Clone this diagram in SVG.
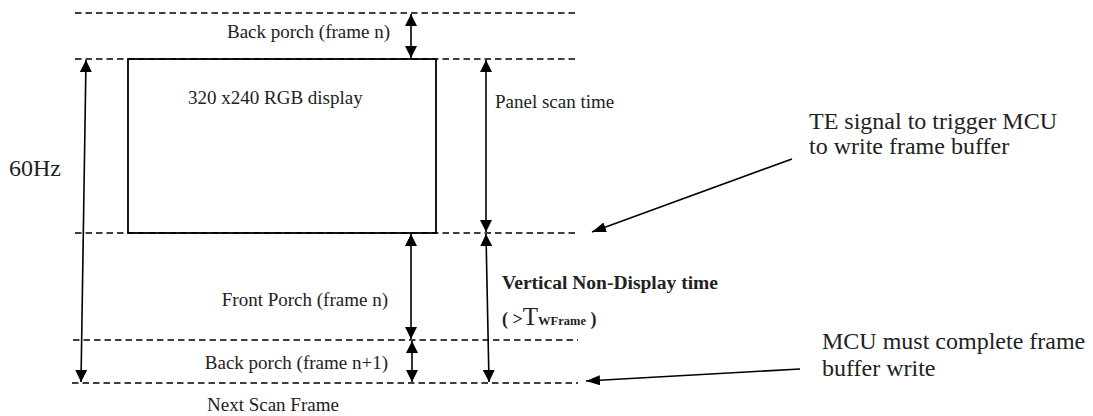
<svg xmlns="http://www.w3.org/2000/svg" width="1093" height="416" viewBox="0 0 1093 416">
<style>
.dash{stroke:#000;stroke-width:1.6;stroke-dasharray:6.5 4;fill:none}
.arr{stroke:#000;stroke-width:1.6;fill:none}
.lbl{font-family:"Liberation Serif","Times New Roman",serif;fill:#222;font-size:19px}
.big{font-family:"Liberation Serif","Times New Roman",serif;fill:#222;font-size:24px}
.bold{font-family:"Liberation Serif","Times New Roman",serif;fill:#222;font-size:18px;font-weight:bold}
</style>
<defs>
<marker id="ah" viewBox="0 0 12 12" refX="12" refY="6" markerWidth="12" markerHeight="12" markerUnits="userSpaceOnUse" orient="auto-start-reverse">
<path d="M0,0 L12,6 L0,12 z" fill="#000"/>
</marker>
<marker id="ah2" viewBox="0 0 14 10" refX="14" refY="5" markerWidth="14" markerHeight="10" markerUnits="userSpaceOnUse" orient="auto-start-reverse">
<path d="M0,0 L14,5 L0,10 z" fill="#000"/>
</marker>
</defs>
<rect width="1093" height="416" fill="#fff"/>
<g id="guides">
<line class="dash" x1="75" y1="13" x2="578" y2="13"/>
<line class="dash" x1="75" y1="59" x2="578" y2="59"/>
<line class="dash" x1="75" y1="233" x2="578" y2="233"/>
<line class="dash" x1="73" y1="340" x2="578" y2="340"/>
<line class="dash" x1="72" y1="383" x2="578" y2="383"/>
</g>
<g id="display">
<rect x="128" y="59" width="308" height="174" fill="none" stroke="#000" stroke-width="1.8"/>
<text class="lbl" x="188" y="104">320 x240 RGB display</text>
</g>
<g id="labels">
<text class="lbl" x="227" y="38">Back porch (frame n)</text>
<text class="lbl" x="495" y="108">Panel scan time</text>
<text class="big" x="9" y="176">60Hz</text>
<text class="lbl" x="388" y="306" text-anchor="end">Front Porch (frame n)</text>
<text class="lbl" x="388" y="369" text-anchor="end">Back porch (frame n+1)</text>
<text class="lbl" x="207" y="411">Next Scan Frame</text>
<text class="bold" x="502" y="289" textLength="216" lengthAdjust="spacingAndGlyphs">Vertical Non-Display time</text>
<text class="bold" x="502" y="325">( &gt;<tspan font-size="25" font-weight="normal">T</tspan><tspan font-size="12.5">WFrame</tspan> )</text>
<text class="big" x="809" y="129">TE signal to trigger MCU</text>
<text class="big" x="809" y="154">to write frame buffer</text>
<text class="big" x="822" y="349">MCU must complete frame</text>
<text class="big" x="822" y="376">buffer write</text>
</g>
<g id="connectors">
<line class="arr" x1="411" y1="14" x2="411" y2="58" marker-start="url(#ah)" marker-end="url(#ah)"/>
<line class="arr" x1="86" y1="60" x2="81" y2="382" marker-start="url(#ah)" marker-end="url(#ah)"/>
<line class="arr" x1="486" y1="60" x2="486" y2="232" marker-start="url(#ah)" marker-end="url(#ah)"/>
<line class="arr" x1="411" y1="234" x2="411" y2="339" marker-start="url(#ah)" marker-end="url(#ah)"/>
<line class="arr" x1="412" y1="341" x2="412" y2="382" marker-start="url(#ah)" marker-end="url(#ah)"/>
<line class="arr" x1="486" y1="234" x2="489" y2="382" marker-start="url(#ah)" marker-end="url(#ah)"/>
<line class="arr" x1="792" y1="159" x2="592" y2="232" marker-end="url(#ah2)"/>
<line class="arr" x1="800" y1="369" x2="586" y2="381" marker-end="url(#ah2)"/>
</g>
</svg>
